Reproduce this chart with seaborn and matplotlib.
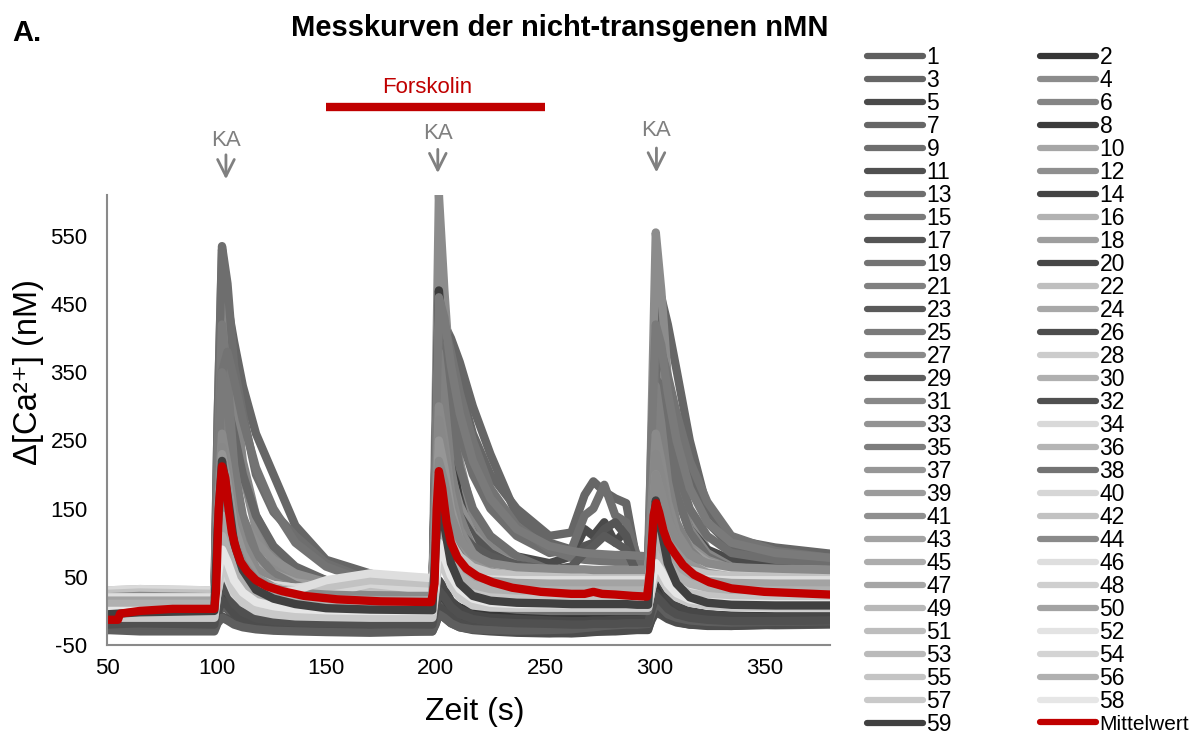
import matplotlib
matplotlib.use("Agg")
import matplotlib.pyplot as plt
from matplotlib.lines import Line2D
import pandas as pd
import seaborn as sns

# ---------------- data ----------------
TIME = [50, 65, 99, 100.5, 102.5, 105, 108, 112, 118, 126, 136, 150, 170, 198.5,
        200, 201.5, 204, 207, 211, 217, 225, 237, 252, 262, 268, 272, 277, 282, 287, 292, 297,
        298.5, 300.5, 303, 306, 310, 316, 324, 335, 355, 380]

T01 = [-25, -20, -22,
       -6, 8, 2, -7, -13, -17, -20, -21, -22, -24, -25,
       -5, 15, 7, -4, -12, -18, -21, -23, -24, -25, -24, -24, -22, -23, -24, -23, -22,
       -7, 8, 2, -6, -12, -17, -19, -20, -21, -20]
T02 = [-8, -4, -5,
       28, 55, 43, 25, 13, 4, -1, -3, -5, -6, -8,
       12, 32, 24, 13, 5, -1, -4, -6, -8, -9, -10, -10, -9, -10, -11, -10, -10,
       15, 40, 30, 16, 6, -1, -5, -7, -8, -8]
T03 = [18, 14, 15,
       200, 400, 450, 395, 330, 260, 200, 125, 75, 55, 32,
       180, 380, 420, 400, 365, 300, 230, 140, 100, 90, 85, 82, 80, 78, 76, 74, 72,
       200, 400, 460, 420, 353, 250, 150, 105, 93, 84]
T04 = [12, 8, 10,
       250, 470, 420, 300, 200, 120, 70, 45, 30, 22, 18,
       300, 610, 470, 330, 220, 140, 90, 60, 45, 40, 38, 37, 36, 35, 35, 34, 34,
       270, 555, 470, 340, 230, 140, 90, 60, 48, 42]
T05 = [0, 3, 2,
       85, 150, 125, 80, 50, 28, 15, 8, 5, 4, 5,
       150, 300, 280, 220, 170, 130, 100, 80, 70, 80, 120, 110, 130, 100, 120, 70, 55,
       200, 398, 350, 250, 170, 120, 90, 75, 68, 62]
T06 = [22, 25, 20,
       280, 530, 460, 330, 220, 140, 90, 60, 45, 35, 28,
       230, 450, 400, 300, 210, 140, 95, 70, 58, 55, 54, 53, 52, 52, 51, 50, 50,
       200, 380, 340, 260, 180, 120, 85, 65, 58, 55]
T07 = [15, 12, 14,
       150, 290, 300, 260, 200, 140, 95, 65, 45, 35, 28,
       200, 400, 420, 390, 330, 260, 200, 150, 110, 115, 170, 190, 175, 165, 158, 70, 55,
       180, 350, 380, 340, 280, 200, 130, 95, 80, 72]
T08 = [5, 2, 4,
       130, 245, 200, 130, 80, 42, 22, 12, 7, 5, 3,
       240, 470, 380, 250, 150, 80, 45, 25, 15, 12, 10, 10, 9, 9, 8, 8, 8,
       130, 250, 200, 130, 80, 45, 25, 15, 10, 8]
T09 = [15, 18, 16,
       280, 535, 480, 360, 290, 200, 145, 110, 70, 45, 30,
       200, 400, 360, 280, 210, 150, 110, 80, 60, 55, 52, 50, 50, 48, 48, 47, 46,
       170, 330, 300, 230, 170, 115, 80, 62, 55, 50]
T10 = [10, 12, 10,
       180, 330, 270, 170, 105, 60, 35, 22, 15, 12, 10,
       170, 330, 275, 180, 115, 65, 40, 27, 20, 18, 17, 17, 16, 16, 16, 15, 15,
       150, 295, 240, 160, 100, 60, 37, 25, 20, 18]
T11 = [-28, -25, -27,
       -16, -8, -12, -18, -22, -25, -26, -27, -28, -29, -30,
       -18, -6, -10, -18, -24, -28, -30, -32, -33, -32, -31, -30, -30, -29, -28, -27, -26,
       -14, -2, -6, -12, -17, -20, -21, -22, -20, -19]
T12 = [20, 22, 20,
       100, 190, 200, 170, 135, 100, 75, 55, 42, 35, 30,
       140, 250, 245, 200, 155, 115, 85, 68, 58, 55, 54, 53, 52, 51, 51, 50, 50,
       120, 200, 195, 160, 125, 95, 75, 62, 55, 52]
T13 = [10, 8, 10,
       100, 185, 150, 100, 65, 38, 25, 18, 14, 12, 10,
       180, 340, 350, 310, 260, 200, 150, 110, 85, 90, 140, 150, 185, 140, 130, 80, 60,
       180, 340, 330, 280, 210, 150, 110, 85, 75, 70]
T14 = [-18, -22, -20,
       2, 20, 12, 0, -8, -14, -17, -19, -20, -21, -22,
       3, 28, 18, 4, -6, -13, -17, -19, -20, -21, -20, -20, -19, -19, -18, -18, -18,
       4, 27, 18, 6, -3, -9, -13, -15, -16, -15]
T15 = [5, 6, 5,
       235, 420, 340, 215, 130, 70, 40, 22, 14, 10, 8,
       180, 350, 285, 190, 120, 70, 42, 28, 20, 18, 17, 17, 16, 16, 16, 16, 15,
       145, 280, 230, 155, 100, 60, 40, 28, 22, 20]
T16 = [20, 22, 20,
       150, 255, 215, 145, 95, 55, 38, 28, 24, 22, 22,
       150, 270, 230, 160, 110, 70, 50, 40, 38, 38, 38, 39, 40, 40, 40, 40, 40,
       120, 200, 170, 125, 90, 65, 52, 45, 42, 40]
T17 = [-5, -2, -3,
       50, 100, 80, 50, 30, 14, 6, 2, 0, -2, -3,
       100, 195, 200, 170, 140, 110, 85, 65, 55, 60, 95, 100, 120, 130, 110, 60, 45,
       120, 220, 200, 150, 110, 80, 62, 52, 48, 45]
T18 = [25, 27, 25,
       160, 280, 240, 165, 115, 75, 55, 42, 35, 30, 28,
       180, 320, 270, 190, 135, 95, 72, 60, 55, 55, 55, 55, 55, 55, 55, 55, 55,
       150, 250, 215, 160, 120, 90, 72, 62, 58, 56]
T19 = [10, 12, 10,
       170, 350, 380, 340, 280, 210, 150, 100, 65, 42, 30,
       210, 400, 420, 380, 320, 250, 180, 125, 90, 78, 75, 74, 73, 72, 72, 71, 70,
       200, 370, 380, 345, 290, 220, 160, 110, 88, 78]
T20 = [-15, -12, -14,
       30, 70, 55, 28, 10, -2, -8, -11, -13, -14, -15,
       15, 45, 33, 15, 3, -6, -10, -12, -14, -15, -15, -14, -14, -13, -13, -13, -12,
       25, 58, 44, 24, 10, 0, -5, -8, -9, -9]
T21 = [15, 18, 15,
       170, 300, 245, 160, 105, 62, 40, 28, 22, 18, 17,
       200, 380, 310, 210, 140, 90, 65, 52, 46, 45, 45, 45, 45, 45, 44, 44, 44,
       180, 330, 275, 190, 130, 90, 65, 52, 47, 45]
T22 = [30, 32, 30,
       110, 180, 155, 110, 80, 55, 42, 36, 33, 32, 32,
       120, 200, 175, 130, 100, 80, 68, 62, 60, 60, 60, 60, 60, 60, 60, 60, 60,
       110, 150, 135, 110, 90, 76, 68, 63, 61, 60]
T23 = [0, 3, 2,
       65, 120, 98, 62, 38, 20, 11, 6, 4, 3, 2,
       80, 145, 150, 135, 115, 95, 80, 68, 60, 65, 85, 95, 110, 100, 90, 55, 45,
       100, 180, 165, 130, 100, 80, 68, 62, 60, 58]
T24 = [20, 20, 18,
       120, 220, 180, 120, 80, 48, 33, 26, 22, 20, 19,
       140, 260, 215, 150, 105, 70, 52, 42, 38, 37, 37, 37, 36, 36, 36, 36, 36,
       110, 180, 155, 115, 85, 62, 50, 42, 40, 38]
T25 = [15, 16, 15,
       190, 350, 300, 210, 140, 85, 55, 38, 28, 22, 20,
       240, 460, 430, 360, 290, 220, 165, 120, 95, 88, 85, 84, 83, 82, 82, 81, 80,
       250, 420, 390, 320, 250, 180, 130, 100, 85, 78]
T26 = [-22, -26, -24,
       -2, 16, 8, -4, -12, -18, -22, -24, -26, -28, -28,
       -12, 6, 0, -10, -18, -24, -28, -30, -32, -33, -32, -31, -30, -30, -29, -28, -28,
       -12, 4, -2, -10, -16, -20, -22, -22, -20, -18]
T27 = [20, 22, 20,
       145, 260, 215, 145, 100, 62, 43, 32, 26, 23, 22,
       165, 300, 250, 175, 120, 85, 65, 55, 50, 50, 50, 50, 50, 50, 50, 50, 50,
       150, 260, 220, 160, 115, 85, 68, 58, 53, 50]
T28 = [25, 28, 25,
       90, 150, 130, 95, 70, 48, 38, 34, 40, 50, 48,
       115, 170, 150, 115, 90, 72, 62, 57, 55, 55, 55, 55, 55, 55, 55, 55, 55,
       90, 120, 110, 92, 78, 66, 60, 57, 56, 55]
T29 = [-28, -30, -30,
       -18, -10, -14, -20, -24, -27, -29, -30, -31, -32, -30,
       -20, -5, -10, -18, -24, -27, -28, -29, -28, -27, -25, -24, -22, -21, -20, -20, -19,
       -5, 12, 5, -5, -10, -14, -16, -17, -16, -15]
T30 = [5, 6, 5,
       110, 190, 155, 100, 62, 33, 20, 12, 9, 7, 6,
       110, 210, 172, 115, 75, 45, 28, 20, 16, 15, 15, 15, 14, 14, 14, 14, 14,
       90, 170, 140, 95, 62, 40, 27, 20, 17, 15]
T31 = [10, 12, 10,
       135, 240, 195, 125, 80, 45, 28, 19, 15, 12, 12,
       150, 280, 230, 160, 110, 72, 52, 43, 40, 40, 40, 40, 40, 40, 40, 40, 40,
       130, 230, 195, 140, 100, 70, 54, 46, 42, 40]
T32 = [-20, -18, -20,
       12, 40, 28, 10, -2, -11, -15, -17, -18, -19, -20,
       5, 30, 20, 6, -5, -12, -16, -18, -19, -20, -20, -19, -19, -19, -18, -18, -18,
       2, 22, 14, 3, -5, -10, -13, -15, -15, -14]
T33 = [15, 16, 14,
       90, 160, 132, 88, 60, 36, 25, 19, 16, 15, 15,
       110, 200, 168, 120, 85, 58, 44, 38, 36, 35, 35, 35, 35, 35, 35, 35, 35,
       98, 160, 138, 102, 76, 56, 45, 39, 36, 35]
T34 = [30, 32, 30,
       80, 120, 105, 78, 60, 45, 38, 34, 35, 45, 40,
       90, 130, 115, 90, 72, 62, 57, 55, 55, 55, 55, 55, 55, 55, 55, 55, 55,
       75, 90, 82, 72, 64, 59, 57, 56, 55, 55]
T35 = [0, 2, 0,
       110, 200, 162, 102, 62, 30, 16, 8, 4, 2, 2,
       130, 240, 195, 130, 85, 50, 34, 28, 25, 25, 25, 25, 25, 25, 25, 25, 25,
       100, 180, 150, 105, 72, 48, 36, 30, 27, 25]
T36 = [10, 10, 10,
       80, 140, 115, 75, 50, 28, 18, 14, 12, 11, 10,
       90, 170, 140, 95, 66, 45, 36, 32, 30, 30, 30, 30, 30, 30, 30, 30, 30,
       80, 130, 112, 82, 60, 45, 37, 33, 31, 30]
T37 = [20, 20, 20,
       130, 230, 190, 125, 85, 50, 35, 27, 23, 21, 20,
       140, 250, 210, 150, 105, 75, 58, 50, 46, 45, 45, 45, 45, 45, 45, 45, 45,
       120, 200, 170, 125, 92, 68, 56, 50, 47, 45]
T38 = [-10, -8, -10,
       40, 85, 68, 38, 18, 4, -3, -6, -8, -9, -10,
       50, 115, 90, 55, 32, 15, 6, 2, 0, 0, 0, 0, 0, 0, 0, 0, 0,
       50, 100, 80, 52, 32, 20, 14, 11, 10, 10]
T39 = [5, 5, 5,
       95, 170, 138, 88, 56, 30, 18, 11, 8, 6, 5,
       105, 190, 155, 105, 72, 45, 34, 31, 30, 30, 30, 30, 30, 30, 30, 30, 30,
       90, 150, 125, 90, 65, 46, 37, 32, 31, 30]
T40 = [15, 15, 15,
       70, 100, 88, 65, 45, 28, 22, 18, 25, 40, 30,
       70, 120, 100, 75, 58, 48, 43, 41, 40, 40, 40, 40, 40, 40, 40, 40, 40,
       65, 90, 82, 66, 55, 48, 44, 42, 41, 40]
T41 = [10, 10, 10,
       85, 150, 122, 80, 52, 30, 20, 15, 12, 11, 10,
       95, 170, 140, 95, 65, 42, 32, 27, 25, 25, 25, 25, 25, 25, 25, 25, 25,
       80, 140, 115, 82, 58, 42, 32, 28, 26, 25]
T42 = [25, 27, 25,
       85, 130, 112, 82, 60, 42, 34, 30, 35, 45, 40,
       95, 150, 130, 100, 80, 64, 56, 52, 50, 50, 50, 50, 50, 50, 50, 50, 50,
       85, 120, 105, 85, 70, 60, 54, 51, 50, 50]
T43 = [0, 0, 0,
       65, 120, 96, 60, 36, 18, 10, 5, 2, 1, 0,
       70, 140, 112, 75, 48, 30, 24, 21, 20, 20, 20, 20, 20, 20, 20, 20, 20,
       65, 110, 90, 64, 45, 32, 26, 22, 21, 20]
T44 = [20, 22, 20,
       100, 180, 150, 100, 70, 45, 33, 27, 24, 22, 22,
       120, 220, 190, 140, 105, 82, 70, 64, 62, 61, 61, 60, 60, 60, 60, 60, 60,
       130, 200, 175, 135, 105, 82, 70, 64, 62, 60]
T45 = [10, 10, 10,
       70, 110, 92, 65, 45, 28, 20, 15, 12, 11, 10,
       75, 130, 110, 78, 55, 40, 33, 31, 30, 30, 30, 30, 30, 30, 30, 30, 30,
       70, 100, 88, 68, 52, 40, 34, 31, 30, 30]
T46 = [20, 20, 20,
       60, 90, 80, 60, 45, 32, 26, 30, 45, 55, 48,
       65, 100, 88, 68, 55, 48, 46, 45, 45, 45, 45, 45, 45, 45, 45, 45, 45,
       65, 80, 74, 62, 54, 49, 46, 45, 45, 45]
T47 = [5, 5, 5,
       80, 140, 115, 75, 48, 25, 15, 9, 6, 5, 5,
       85, 160, 130, 90, 60, 40, 30, 26, 25, 25, 25, 25, 25, 25, 25, 25, 25,
       75, 130, 108, 78, 55, 40, 31, 27, 25, 25]
T48 = [15, 15, 15,
       65, 100, 85, 60, 42, 28, 22, 18, 16, 15, 15,
       70, 120, 100, 72, 54, 43, 38, 36, 35, 35, 35, 35, 35, 35, 35, 35, 35,
       70, 100, 88, 68, 52, 42, 38, 36, 35, 35]
T49 = [-5, -5, -5,
       40, 80, 62, 35, 18, 5, 0, -3, -4, -5, -5,
       50, 100, 80, 50, 30, 18, 13, 11, 10, 10, 10, 10, 10, 10, 10, 10, 10,
       45, 80, 65, 45, 30, 20, 15, 12, 11, 10]
T50 = [15, 15, 15,
       80, 130, 108, 75, 52, 33, 24, 19, 17, 16, 15,
       90, 150, 125, 90, 66, 50, 44, 41, 40, 40, 40, 40, 40, 40, 40, 40, 40,
       80, 120, 105, 80, 62, 50, 44, 41, 40, 40]
T51 = [5, 5, 5,
       50, 90, 74, 48, 30, 16, 10, 7, 6, 5, 5,
       60, 110, 90, 62, 42, 29, 23, 21, 20, 20, 20, 20, 20, 20, 20, 20, 20,
       55, 90, 75, 55, 40, 29, 24, 21, 20, 20]
T52 = [10, 10, 10,
       45, 70, 60, 42, 30, 20, 16, 13, 12, 11, 10,
       50, 80, 68, 50, 38, 30, 27, 26, 25, 25, 25, 25, 25, 25, 25, 25, 25,
       45, 60, 55, 44, 36, 30, 27, 26, 25, 25]
T53 = [0, 0, 0,
       55, 100, 80, 50, 30, 15, 8, 4, 2, 1, 0,
       60, 120, 96, 63, 40, 25, 18, 16, 15, 15, 15, 15, 15, 15, 15, 15, 15,
       50, 90, 75, 52, 36, 25, 19, 16, 15, 15]
T54 = [-5, -5, -5,
       28, 60, 47, 25, 12, 3, -1, -3, -4, -5, -5,
       35, 80, 63, 38, 20, 10, 6, 5, 5, 5, 5, 5, 5, 5, 5, 5, 5,
       30, 60, 48, 32, 20, 12, 8, 6, 5, 5]
T55 = [5, 5, 5,
       45, 80, 65, 42, 26, 15, 10, 7, 6, 5, 5,
       50, 90, 75, 52, 36, 26, 22, 20, 20, 20, 20, 20, 20, 20, 20, 20, 20,
       45, 70, 60, 45, 34, 26, 22, 21, 20, 20]
T56 = [10, 10, 10,
       62, 110, 90, 60, 40, 24, 16, 13, 11, 10, 10,
       70, 130, 108, 75, 52, 38, 32, 30, 30, 30, 30, 30, 30, 30, 30, 30, 30,
       70, 110, 94, 70, 52, 40, 34, 31, 30, 30]
T57 = [-10, -10, -10,
       28, 70, 55, 28, 12, 0, -5, -8, -9, -10, -10,
       30, 80, 62, 38, 20, 8, 5, 5, 5, 5, 5, 5, 5, 5, 5, 5, 5,
       30, 60, 48, 32, 20, 12, 8, 6, 5, 5]
T58 = [0, 0, 0,
       50, 90, 72, 45, 27, 13, 7, 3, 1, 0, 0,
       50, 100, 80, 52, 32, 18, 12, 10, 10, 10, 10, 10, 10, 10, 10, 10, 10,
       40, 70, 58, 40, 26, 17, 13, 11, 10, 10]
T59 = [-5, -2, 0,
       120, 220, 170, 100, 60, 31, 18, 10, 4, 2, 1,
       90, 170, 125, 70, 40, 22, 15, 12, 11, 10, 10, 10, 10, 10, 10, 9, 9,
       85, 162, 120, 70, 40, 20, 12, 9, 8, 8]

MEAN_TIME = [50, 55, 56, 65, 80, 99, 99.8, 101, 102.5, 104, 105.5, 107, 109, 111, 114, 118,
             123, 130, 140, 155, 175, 198, 199.5, 200.5, 201.5, 203, 205, 207, 210, 214, 219,
             226, 235, 248, 262, 268, 272, 276, 282, 290, 296.5, 298, 299.5, 300.7, 302, 304,
             306, 309, 313, 318, 325, 335, 350, 365, 380]
MEAN = [-13, -13, -4, 0, 3, 3, 30, 150, 212, 195, 150, 115, 90, 72, 58, 45,
        36, 29, 22, 17, 14, 13, 40, 150, 205, 180, 130, 100, 78, 62, 51,
        42, 34, 28, 25, 25, 28, 25, 24, 22, 21, 60, 140, 158, 145, 118,
        100, 85, 67, 53, 42, 33, 28, 26, 24]

COLORS = ['#5f5f5f', '#363636', '#666666', '#8c8c8c', '#4a4a4a', '#858585', '#666666', '#3c3c3c', '#6e6e6e', '#a6a6a6',
          '#505050', '#8f8f8f', '#6e6e6e', '#444444', '#7a7a7a', '#b2b2b2', '#555555', '#9e9e9e', '#737373', '#474747',
          '#808080', '#bfbfbf', '#5a5a5a', '#a8a8a8', '#7a7a7a', '#4d4d4d', '#8a8a8a', '#cccccc', '#5e5e5e', '#b0b0b0',
          '#888888', '#505050', '#939393', '#d9d9d9', '#7d7d7d', '#b5b5b5', '#969696', '#737373', '#9c9c9c', '#d6d6d6',
          '#8f8f8f', '#c2c2c2', '#a3a3a3', '#8a8a8a', '#adadad', '#dedede', '#a6a6a6', '#cfcfcf', '#b8b8b8', '#a3a3a3',
          '#bdbdbd', '#e3e3e3', '#bababa', '#d4d4d4', '#c4c4c4', '#b0b0b0', '#c9c9c9', '#e6e6e6', '#404040']
MEAN_COLOR = '#c00000'
MEAN_LABEL = 'Mittelwert'

X_TICKS = [50, 100, 150, 200, 250, 300, 350]
Y_TICKS = [-50, 50, 150, 250, 350, 450, 550]
KA_TIMES = [104.3, 201, 300.8]
FORSKOLIN = [150, 250]

TRACES = [T01, T02, T03, T04, T05, T06, T07, T08, T09, T10,
          T11, T12, T13, T14, T15, T16, T17, T18, T19, T20,
          T21, T22, T23, T24, T25, T26, T27, T28, T29, T30,
          T31, T32, T33, T34, T35, T36, T37, T38, T39, T40,
          T41, T42, T43, T44, T45, T46, T47, T48, T49, T50,
          T51, T52, T53, T54, T55, T56, T57, T58, T59]

for i, tr in enumerate(TRACES):
    assert len(tr) == len(TIME), (i + 1, len(tr))
assert len(MEAN) == len(MEAN_TIME), (len(MEAN), len(MEAN_TIME))

labels = [str(i + 1) for i in range(len(TRACES))]
rows = []
for lab, tr in zip(labels, TRACES):
    for t, v in zip(TIME, tr):
        rows.append((lab, t, v))
df = pd.DataFrame(rows, columns=['Zelle', 'Zeit', 'Wert'])
palette = dict(zip(labels, COLORS))

# ---------------- figure ----------------
sns.set_style('white')
plt.rcParams['font.family'] = ['Liberation Sans', 'DejaVu Sans']
plt.rcParams['text.color'] = 'black'
plt.rcParams['axes.labelcolor'] = 'black'
plt.rcParams['axes.unicode_minus'] = False

fig = plt.figure(figsize=(11.94, 7.38), dpi=100)
ax = fig.add_axes([0.0896, 0.126, 0.6055, 0.6098])

sns.lineplot(data=df, x='Zeit', y='Wert', hue='Zelle', hue_order=labels, palette=palette,
             linewidth=6, legend=False, ax=ax, estimator=None, sort=False,
             solid_capstyle='round', solid_joinstyle='round')
sns.lineplot(x=MEAN_TIME, y=MEAN, color=MEAN_COLOR, linewidth=6, ax=ax, estimator=None,
             sort=False, solid_capstyle='round', solid_joinstyle='round')

ax.set_xlim(50, 380)
ax.set_ylim(-50, 610)
ax.set_xticks(X_TICKS)
ax.set_yticks(Y_TICKS)
gray = '#8a8a8a'
for s in ['top', 'right']:
    ax.spines[s].set_visible(False)
for s in ['left', 'bottom']:
    ax.spines[s].set_color(gray)
    ax.spines[s].set_linewidth(1.5)
ax.tick_params(axis='x', direction='inout', length=10, width=1.5, color=gray,
               labelsize=16, pad=4, labelcolor='black')
ax.tick_params(axis='y', direction='out', length=5, width=1.5, color=gray,
               labelsize=16, pad=9, labelcolor='black')

ax.set_xlabel('Zeit (s)', fontsize=23)
ax.set_ylabel('Δ[Ca²⁺] (nM)', fontsize=23.5)
ax.xaxis.set_label_coords(0.509, -0.115)
ax.yaxis.set_label_coords(-0.087, 0.607)

# KA arrows
ka_text_y = [690, 700, 705]
ka_top = [673, 681, 683]
ka_tip = [629, 638, 639]
for t, yt, y0, y1 in zip(KA_TIMES, ka_text_y, ka_top, ka_tip):
    ax.annotate('', xy=(t, y1), xytext=(t, y0),
                arrowprops=dict(arrowstyle='->', color='#808080', lw=2, mutation_scale=30),
                annotation_clip=False)
    ax.text(t, yt, 'KA', ha='center', va='center', color='#808080', fontsize=16, clip_on=False)

# Forskolin bar
ax.plot(FORSKOLIN, [739, 739], color=MEAN_COLOR, lw=6, solid_capstyle='butt', clip_on=False)
ax.text(196, 768, 'Forskolin', ha='center', va='center', color=MEAN_COLOR, fontsize=16, clip_on=False)

# titles
fig.text(0.469, 0.962, 'Messkurven der nicht-transgenen nMN', ha='center', va='center',
         fontsize=21, fontweight='bold')
fig.text(0.010, 0.955, 'A.', ha='left', va='center', fontsize=21, fontweight='bold')

# legend (two columns)
def handle(c):
    return Line2D([0], [0], color=c, lw=4.5, solid_capstyle='round')

col1 = [(handle(COLORS[i]), labels[i]) for i in range(0, 59, 2)]
col2 = [(handle(COLORS[i]), labels[i]) for i in range(1, 59, 2)] + [(handle(MEAN_COLOR), MEAN_LABEL)]
common = dict(frameon=False, fontsize=16.5, handlelength=2.45, handletextpad=0.15,
              labelspacing=0.0, borderpad=0, borderaxespad=0, loc='upper left')
fig.legend([h for h, _ in col1], [l for _, l in col1], bbox_to_anchor=(0.726, 0.937), **common)
leg2 = fig.legend([h for h, _ in col2], [l for _, l in col2], bbox_to_anchor=(0.871, 0.937), **common)
leg2.get_texts()[-1].set_fontsize(15)

fig.savefig('out.png', dpi=100)
